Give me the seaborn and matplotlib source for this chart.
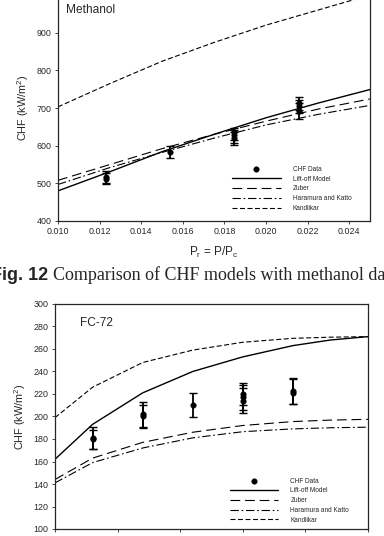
import matplotlib
matplotlib.use("Agg", force=True)
import matplotlib.pyplot as plt
import numpy as np
import pandas as pd
import seaborn as sns

# Methanol panel
meth_pr = [0.010, 0.0125, 0.015, 0.0175, 0.020, 0.0225, 0.025]
meth_liftoff = [480, 531, 584, 630, 674, 713, 749]
meth_zuber = [508, 550, 592, 630, 665, 697, 724]
meth_hk = [497, 542, 582, 620, 655, 683, 707]
meth_kandlikar = [703, 765, 824, 874, 920, 960, 1000]
meth_data_pr = [0.01231, 0.01231, 0.0154, 0.01848, 0.01848, 0.01848, 0.02159, 0.02159, 0.02159]
meth_data_chf = [518, 512, 584, 635, 627, 620, 712, 705, 692]
meth_err_lo = [17, 14, 18, 20, 20, 17, 17, 17, 22]
meth_err_hi = [15, 15, 16, 13, 15, 15, 18, 17, 20]

# FC-72 panel
fc_pr = [0.04, 0.052, 0.068, 0.084, 0.100, 0.116, 0.128, 0.14]
fc_liftoff = [162, 193, 221, 240, 253, 263, 268, 271]
fc_zuber = [144, 163, 177, 186, 192, 195.5, 196.8, 197.5]
fc_hk = [141, 159, 172, 181, 186.5, 189, 190, 190.5]
fc_kandlikar = [199, 226, 248, 259, 266, 269.5, 270.5, 271]
fc_data_pr = [0.052, 0.052, 0.068, 0.068, 0.084, 0.100, 0.100, 0.100, 0.116, 0.116]
fc_data_chf = [181, 180, 202, 200, 210, 220, 217, 214, 223, 221]
fc_err_lo = [9.5, 9, 11, 10, 10.5, 10, 11, 11, 12, 10]
fc_err_hi = [9.5, 8, 11, 10, 10.5, 10, 11, 11, 11, 12]

sns.set_style("ticks")
plt.rcParams["font.family"] = ["Liberation Sans", "DejaVu Sans"]
plt.rcParams["mathtext.default"] = "regular"
plt.rcParams["lines.scale_dashes"] = False

models = [
    ("Lift-off Model", "-", 1.0),
    ("Zuber", (0, (7, 3.5)), 0.8),
    ("Haramura and Katto", (0, (6, 2, 1.2, 2)), 0.8),
    ("Kandlikar", (0, (3.6, 1.8)), 0.8),
]


def draw_panel(ax, pr, curves, dpr, dchf, elo, ehi, name, name_pos, legend_anchor):
    for (label, ls, lw), vals in zip(models, curves):
        df = pd.DataFrame({"pr": pr, "chf": vals})
        sns.lineplot(data=df, x="pr", y="chf", ax=ax, color="black", linestyle=ls,
                     linewidth=lw, label=label, estimator=None, sort=False)
    ax.errorbar(dpr, dchf, yerr=[elo, ehi], fmt="none", ecolor="black",
                elinewidth=1.3, capsize=3, capthick=1.0, zorder=3)
    sns.scatterplot(x=dpr, y=dchf, ax=ax, color="black", s=16, edgecolor="black",
                    linewidth=0.3, label="CHF Data", zorder=4)
    handles, labels = ax.get_legend_handles_labels()
    order = [labels.index("CHF Data")] + [labels.index(m[0]) for m in models]
    ax.legend([handles[i] for i in order], [labels[i] for i in order],
              loc="upper left", bbox_to_anchor=legend_anchor, frameon=False,
              fontsize=4.7, handlelength=7.4, handletextpad=1.9,
              labelspacing=0.42, borderaxespad=0)
    ax.text(name_pos[0], name_pos[1], name, transform=ax.transAxes,
            fontsize=8.6, va="center", ha="left")
    ax.tick_params(axis="both", direction="out", length=2.5, width=0.6,
                   labelsize=6.4, pad=2, top=False, right=False)
    for sp in ax.spines.values():
        sp.set_linewidth(0.9)
        sp.set_visible(True)
    ax.set_ylabel("CHF (kW/m$^2$)", fontsize=7.8, labelpad=4)


fig = plt.figure(figsize=(3.84, 5.36), dpi=100)
ax1 = fig.add_axes([58 / 384, 1 - 221 / 536, 312 / 384, 226 / 536])
draw_panel(ax1, meth_pr, [meth_liftoff, meth_zuber, meth_hk, meth_kandlikar],
           meth_data_pr, meth_data_chf, meth_err_lo, meth_err_hi, "Methanol",
           (0.025, 0.934), (0.55, 0.255))
ax1.set_xlim(0.010, 0.025)
ax1.set_ylim(400, 1000)
xt = np.arange(0.010, 0.0245, 0.002)
ax1.set_xticks(xt)
ax1.set_xticklabels([f"{v:.3f}" for v in xt])
ax1.set_yticks([400, 500, 600, 700, 800, 900])
ax1.set_xlabel("$P_r$ = P/P$_c$", fontsize=8.5, labelpad=6)

ax2 = fig.add_axes([55 / 384, 1 - 529 / 536, 313 / 384, 225 / 536])
draw_panel(ax2, fc_pr, [fc_liftoff, fc_zuber, fc_hk, fc_kandlikar],
           fc_data_pr, fc_data_chf, fc_err_lo, fc_err_hi, "FC-72",
           (0.08, 0.916), (0.55, 0.24))
ax2.set_xlim(0.04, 0.14)
ax2.set_ylim(100, 300)
ax2.set_xticks([0.04, 0.06, 0.08, 0.10, 0.12, 0.14])
ax2.set_yticks(range(100, 301, 20))
ax2.tick_params(axis="x", labelbottom=False)
ax2.set_xlabel("")

fig.text(48 / 384, 1 - 275 / 536, "Fig. 12", ha="right", va="center",
         fontsize=13, fontweight="bold")
fig.text(53 / 384, 1 - 275 / 536, "Comparison of CHF models with methanol data",
         ha="left", va="center", fontsize=13, family=["Liberation Serif"])

fig.savefig("out.png", dpi=100)
